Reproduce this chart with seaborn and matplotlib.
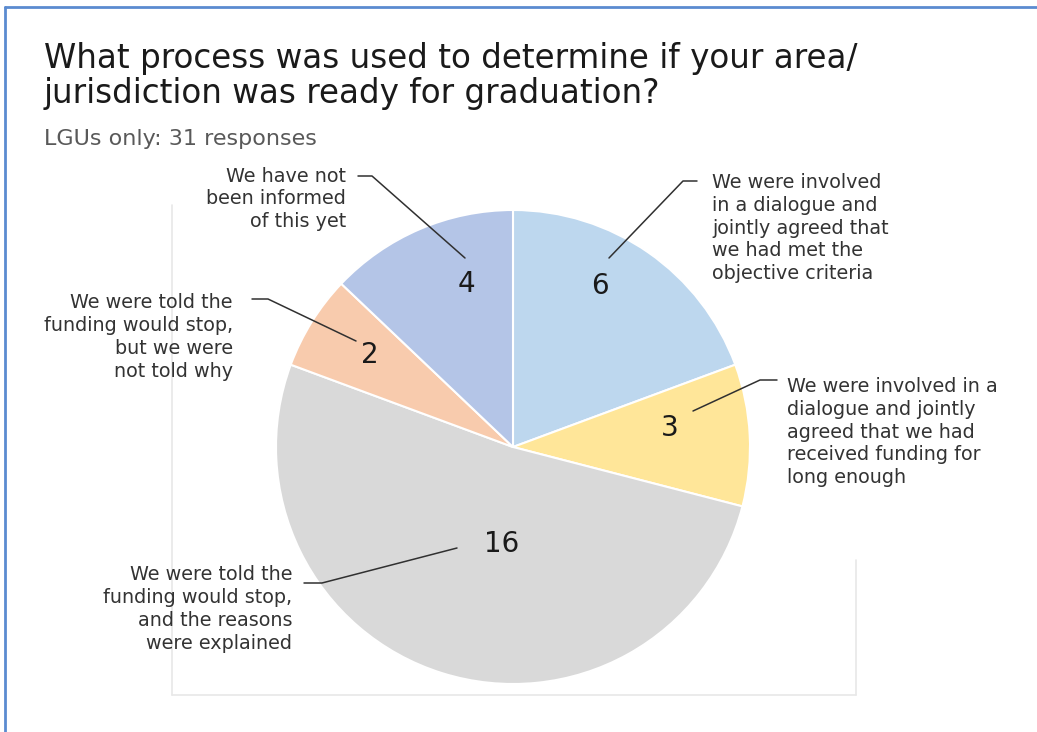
import matplotlib
matplotlib.use("Agg")
import matplotlib.pyplot as plt
from matplotlib.lines import Line2D
import seaborn as sns

# ---- data ----
categories = [
    "We were involved\nin a dialogue and\njointly agreed that\nwe had met the\nobjective criteria",
    "We were involved in a\ndialogue and jointly\nagreed that we had\nreceived funding for\nlong enough",
    "We were told the\nfunding would stop,\nand the reasons\nwere explained",
    "We were told the\nfunding would stop,\nbut we were\nnot told why",
    "We have not\nbeen informed\nof this yet",
]
counts = [6, 3, 16, 2, 4]
title_lines = ["What process was used to determine if your area/",
               "jurisdiction was ready for graduation?"]
subtitle = "LGUs only: 31 responses"

# ---- style ----
colors = ["#BDD7EE", "#FFE699", "#D9D9D9", "#F8CBAD", "#B4C5E7"]

sns.set_theme(style="white")
plt.rcParams["font.family"] = ["DejaVu Sans"]

W, H = 1037, 732
fig = plt.figure(figsize=(W / 100, H / 100), dpi=100)
fig.patch.set_facecolor("white")


def fx(x):
    return x / W


def fy(y):
    return 1 - y / H


# pie axes: centre (513, 447), radius 237 px
cx, cy, R = 513, 447, 237
ax = fig.add_axes([fx(cx - R), fy(cy + R), 2 * R / W, 2 * R / H])
wedges, _ = ax.pie(
    counts,
    colors=colors,
    startangle=90,
    counterclock=False,
    radius=1.0,
    wedgeprops=dict(edgecolor="white", linewidth=1.5),
)
ax.set_xlim(-1, 1)
ax.set_ylim(-1, 1)
ax.set_aspect("equal")
ax.axis("off")

# value labels (pixel positions of label centres)
num_pos = [(600, 286), (670, 428), (502, 544), (370, 355), (466, 284)]
for v, (px, py) in zip(counts, num_pos):
    fig.text(fx(px), fy(py), str(v), ha="center", va="center",
             fontsize=20, color="#1a1a1a")

# category labels: (x, y_center, ha)
lab_pos = [
    (712, 228, "left"),
    (787, 432, "left"),
    (292, 609, "right"),
    (233, 337, "right"),
    (346, 199, "right"),
]
for t, (px, py, ha) in zip(categories, lab_pos):
    fig.text(fx(px), fy(py), t, ha=ha, va="center", fontsize=13.8,
             color="#333333", linespacing=1.25)

# leader lines (pixel polylines)
leaders = [
    [(697, 181), (683, 181), (609, 258)],
    [(777, 380), (760, 380), (693, 411)],
    [(304, 583), (322, 583), (457, 548)],
    [(252, 299), (268, 299), (356, 341)],
    [(358, 176), (372, 176), (465, 258)],
]
for pts in leaders:
    xs = [fx(p[0]) for p in pts]
    ys = [fy(p[1]) for p in pts]
    fig.add_artist(Line2D(xs, ys, color="#303030", lw=1.1,
                          transform=fig.transFigure))

# faint chart-area frame
for seg in [[(172, 205), (172, 695)], [(172, 695), (856, 695)],
            [(856, 560), (856, 695)]]:
    fig.add_artist(Line2D([fx(seg[0][0]), fx(seg[1][0])],
                          [fy(seg[0][1]), fy(seg[1][1])],
                          color="#E8E8E8", lw=1.2, transform=fig.transFigure))

# outer blue frame (left and top edges)
fig.add_artist(Line2D([fx(5), fx(5)], [fy(7), 0], color="#5B8BD0", lw=2,
                      transform=fig.transFigure))
fig.add_artist(Line2D([fx(5), 1], [fy(7), fy(7)], color="#5B8BD0", lw=2,
                      transform=fig.transFigure))

# titles
for line, base in zip(title_lines, [68, 103]):
    fig.text(fx(44), fy(base), line, ha="left", va="baseline", fontsize=23.5,
             color="#1a1a1a")
fig.text(fx(44), fy(145), subtitle, ha="left", va="baseline", fontsize=16,
         color="#595959")

fig.savefig("out.png", dpi=100, facecolor="white")
